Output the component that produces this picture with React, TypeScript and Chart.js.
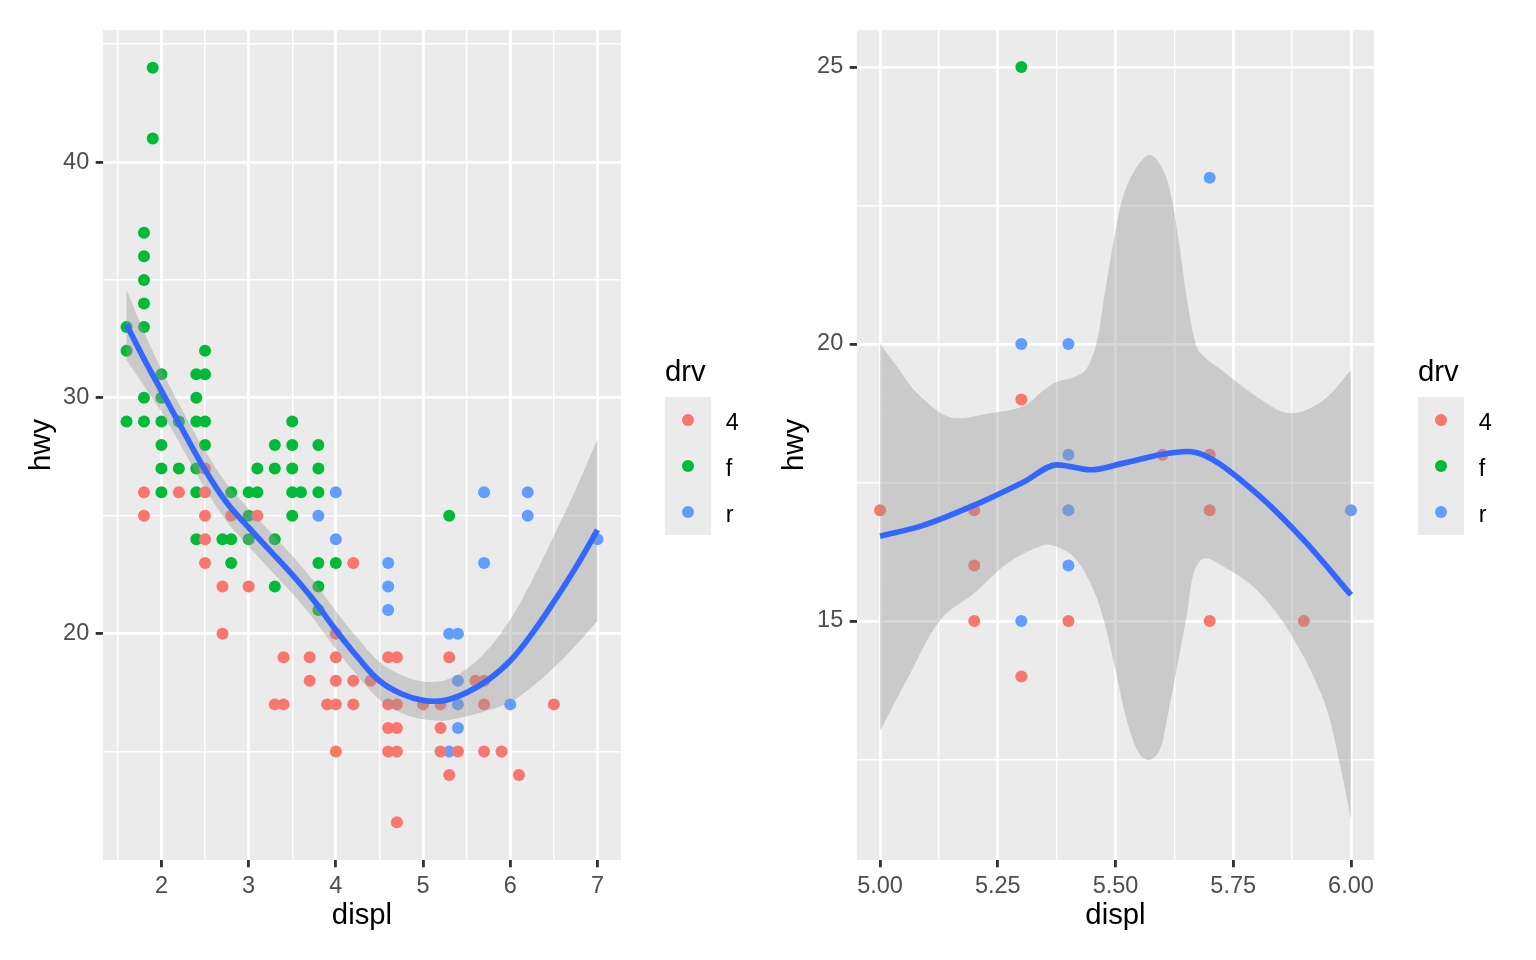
import React, { useEffect, useRef } from "react";
import { Chart, registerables } from "chart.js";

Chart.register(...registerables);

const FONT = '"Liberation Sans", Arial, Helvetica, sans-serif';

// ---------------- data (mpg: displ vs hwy, coloured by drv) ----------------
const drvLevels = ["4", "f", "r"];
const drvColors = ["#F8766D", "#00BA38", "#619CFF"];

const drv4Displ = [1.8, 1.8, 2.2, 2.5, 2.5, 2.5, 2.5, 2.5, 2.7, 2.7, 2.8, 3.0, 3.1, 3.3, 3.4, 3.4, 3.7, 3.7, 3.9, 4.0, 4.0, 4.0, 4.0, 4.0, 4.2, 4.2, 4.2, 4.4, 4.6, 4.6, 4.6, 4.6, 4.7, 4.7, 4.7, 4.7, 4.7, 5.0, 5.2, 5.2, 5.2, 5.3, 5.3, 5.4, 5.6, 5.7, 5.7, 5.7, 5.9, 6.1, 6.5];
const drv4Hwy = [26, 25, 26, 27, 26, 25, 24, 23, 22, 20, 25, 22, 25, 17, 19, 17, 19, 18, 17, 20, 19, 18, 17, 15, 23, 18, 17, 18, 19, 17, 16, 15, 19, 17, 16, 15, 12, 17, 17, 16, 15, 19, 14, 15, 18, 18, 17, 15, 15, 14, 17];

const drvFDispl = [1.6, 1.6, 1.6, 1.8, 1.8, 1.8, 1.8, 1.8, 1.8, 1.8, 1.9, 1.9, 2.0, 2.0, 2.0, 2.0, 2.0, 2.0, 2.2, 2.2, 2.4, 2.4, 2.4, 2.4, 2.4, 2.4, 2.5, 2.5, 2.5, 2.5, 2.7, 2.8, 2.8, 2.8, 3.0, 3.0, 3.0, 3.1, 3.1, 3.3, 3.3, 3.3, 3.3, 3.5, 3.5, 3.5, 3.5, 3.5, 3.6, 3.8, 3.8, 3.8, 3.8, 3.8, 3.8, 4.0, 5.3];
const drvFHwy = [33, 32, 29, 37, 36, 35, 34, 33, 30, 29, 44, 41, 31, 30, 29, 28, 27, 26, 29, 27, 31, 30, 29, 27, 26, 24, 32, 31, 29, 28, 24, 26, 24, 23, 26, 25, 24, 27, 26, 28, 27, 24, 22, 29, 28, 27, 26, 25, 26, 28, 27, 26, 23, 22, 21, 23, 25];

const drvRDispl = [3.8, 4.0, 4.0, 4.6, 4.6, 4.6, 5.3, 5.3, 5.4, 5.4, 5.4, 5.4, 5.7, 5.7, 6.0, 6.2, 6.2, 7.0];
const drvRHwy = [25, 26, 24, 23, 22, 21, 20, 15, 20, 18, 17, 16, 26, 23, 17, 26, 25, 24];

// left panel loess fit and confidence band
const leftSmoothX = [1.6, 1.8, 2.0, 2.25, 2.5, 2.75, 3.0, 3.25, 3.5, 3.75, 4.0, 4.25, 4.5, 4.75, 5.0, 5.25, 5.5, 5.75, 6.0, 6.25, 6.5, 6.75, 7.0];
const leftSmoothY = [33.1, 31.65, 30.3, 28.6, 26.95, 25.55, 24.5, 23.5, 22.5, 21.4, 20.15, 19.0, 18.0, 17.45, 17.17, 17.17, 17.5, 18.05, 18.85, 20.0, 21.35, 22.8, 24.4];
const leftUpperY = [34.6, 32.8, 31.2, 29.4, 27.75, 26.35, 25.3, 24.3, 23.3, 22.2, 20.95, 19.8, 18.8, 18.25, 17.97, 18.02, 18.5, 19.35, 20.6, 22.25, 24.15, 26.1, 28.25];
const leftLowerY = [31.6, 30.5, 29.4, 27.8, 26.15, 24.75, 23.7, 22.7, 21.7, 20.6, 19.35, 18.2, 17.2, 16.65, 16.37, 16.32, 16.5, 16.75, 17.1, 17.75, 18.55, 19.5, 20.55];

// right panel (5 <= displ <= 6, 10 <= hwy <= 25) loess fit and band
const rightSmoothX = [5.0, 5.093, 5.2, 5.305, 5.376, 5.447, 5.517, 5.6, 5.652, 5.694, 5.8, 5.9, 6.0];
const rightSmoothY = [16.53, 16.73, 17.09, 17.51, 17.82, 17.73, 17.85, 18.01, 18.06, 17.97, 17.3, 16.46, 15.47];
const rightUpperX = [5.0, 5.036, 5.079, 5.149, 5.234, 5.305, 5.348, 5.376, 5.411, 5.439, 5.461, 5.475, 5.493, 5.514, 5.541, 5.573, 5.601, 5.62, 5.637, 5.652, 5.67, 5.684, 5.73, 5.8, 5.871, 5.942, 6.0];
const rightUpperY = [20.0, 19.59, 19.11, 18.68, 18.75, 18.88, 19.17, 19.32, 19.4, 19.56, 20.07, 20.79, 21.7, 22.6, 23.14, 23.41, 23.14, 22.6, 21.7, 20.79, 20.01, 19.8, 19.5, 19.05, 18.75, 18.99, 19.53];
const rightLowerX = [5.0, 5.057, 5.128, 5.2, 5.27, 5.348, 5.376, 5.411, 5.447, 5.475, 5.503, 5.524, 5.552, 5.573, 5.594, 5.609, 5.631, 5.652, 5.666, 5.687, 5.73, 5.8, 5.871, 5.942, 5.977, 6.0];
const rightLowerY = [13.02, 13.94, 15.02, 15.5, 16.04, 16.37, 16.34, 16.16, 15.68, 15.02, 13.99, 13.21, 12.58, 12.49, 12.67, 13.21, 14.18, 15.14, 15.86, 16.13, 15.98, 15.56, 14.78, 13.57, 12.4, 11.41];

// axes
const leftXTicks = [1.5, 2, 2.5, 3, 3.5, 4, 4.5, 5, 5.5, 6, 6.5, 7];
const leftXMajors = [2, 3, 4, 5, 6, 7];
const leftXLabels = ["2", "3", "4", "5", "6", "7"];
const leftYTicks = [15, 20, 25, 30, 35, 40, 45];
const leftYMajors = [20, 30, 40];
const leftYLabels = ["20", "30", "40"];

const rightXTicks = [5, 5.125, 5.25, 5.375, 5.5, 5.625, 5.75, 5.875, 6];
const rightXMajors = [5, 5.25, 5.5, 5.75, 6];
const rightXLabels = ["5.00", "5.25", "5.50", "5.75", "6.00"];
const rightYTicks = [12.5, 15, 17.5, 20, 22.5, 25];
const rightYMajors = [15, 20, 25];
const rightYLabels = ["15", "20", "25"];

// ---------------- helpers ----------------
type Pt = { x: number; y: number };

function zip(xs: number[], ys: number[]): Pt[] {
  return xs.map((x, i) => ({ x, y: ys[i] }));
}

function ribbonPolygon(ux: number[], uy: number[], lx: number[], ly: number[]): Pt[] {
  const pts: Pt[] = [];
  pts.push({ x: ux[0], y: uy[0] });
  for (let i = 0; i < ux.length; i++) pts.push({ x: ux[i], y: uy[i] });
  pts.push({ x: ux[ux.length - 1], y: uy[uy.length - 1] });
  pts.push({ x: lx[lx.length - 1], y: ly[ly.length - 1] });
  for (let i = lx.length - 1; i >= 0; i--) pts.push({ x: lx[i], y: ly[i] });
  pts.push({ x: lx[0], y: ly[0] });
  return pts;
}

function findMajor(v: number, majors: number[]) {
  return majors.findIndex((m) => Math.abs(m - v) < 1e-9);
}

type Panel = {
  xMin: number; xMax: number; yMin: number; yMax: number;
  xTicks: number[]; xMajors: number[]; xLabels: string[];
  yTicks: number[]; yMajors: number[]; yLabels: string[];
  points: Pt[][];
  smooth: Pt[];
  monotone: boolean;
  ribbon: Pt[];
  yAxisWidth: number;
  yTitlePad: number;
  rightPad: number;
};

function axisOpts(ticks: number[], majors: number[], labels: string[], min: number, max: number, horizontal: boolean, title: string, titlePad: number, size: number) {
  return {
    type: "linear",
    min,
    max,
    bounds: "data",
    afterBuildTicks: (s: any) => {
      s.ticks = ticks.map((v) => ({ value: v }));
    },
    afterFit: (s: any) => {
      if (horizontal) s.height = size;
      else s.width = size;
    },
    border: { display: false },
    grid: {
      color: "#FFFFFF",
      lineWidth: (c: any) => (c.tick && findMajor(c.tick.value, majors) >= 0 ? 2.84 : 1.42),
      drawTicks: true,
      tickLength: 7.3,
      tickWidth: 2.84,
      tickColor: (c: any) => (c.tick && findMajor(c.tick.value, majors) >= 0 ? "#333333" : "rgba(0,0,0,0)"),
    },
    ticks: {
      autoSkip: false,
      maxRotation: 0,
      minRotation: 0,
      padding: horizontal ? 5.3 : 6.5,
      color: "#4D4D4D",
      font: { family: FONT, size: 23.5 },
      callback: (v: any) => {
        const k = findMajor(Number(v), majors);
        return k >= 0 ? labels[k] : "";
      },
    },
    title: {
      display: true,
      text: title,
      color: "#000000",
      font: { family: FONT, size: 29.3 },
      padding: horizontal ? { top: 0, bottom: 26.5 } : { top: titlePad, bottom: 0 },
    },
  };
}

const panelBg = {
  id: "panelBg",
  beforeDraw(chart: any) {
    const { ctx, chartArea } = chart;
    ctx.save();
    ctx.fillStyle = "#EBEBEB";
    ctx.fillRect(chartArea.left, chartArea.top, chartArea.right - chartArea.left, chartArea.bottom - chartArea.top);
    ctx.restore();
  },
};

const ggLegend = {
  id: "ggLegend",
  afterDraw(chart: any) {
    const { ctx, chartArea } = chart;
    const x0 = chartArea.right + 44;
    const keyTop = 397;
    const key = 46;
    ctx.save();
    ctx.textAlign = "left";
    ctx.textBaseline = "alphabetic";
    ctx.fillStyle = "#000000";
    ctx.font = `29.3px ${FONT}`;
    ctx.fillText("drv", x0, 381);
    ctx.fillStyle = "#EBEBEB";
    ctx.fillRect(x0, keyTop, key, key * drvLevels.length);
    ctx.font = `23.5px ${FONT}`;
    drvLevels.forEach((lvl, i) => {
      const cy = keyTop + key / 2 + i * key;
      ctx.beginPath();
      ctx.fillStyle = drvColors[i];
      ctx.arc(x0 + key / 2, cy, 6, 0, Math.PI * 2);
      ctx.fill();
      ctx.fillStyle = "#000000";
      ctx.fillText(lvl, x0 + key + 14.7, cy + 10);
    });
    ctx.restore();
  },
};

function buildConfig(p: Panel): any {
  const pointSets = p.points.map((pts, i) => ({
    type: "line",
    label: drvLevels[i],
    data: pts,
    showLine: false,
    pointRadius: 6,
    pointBorderWidth: 0,
    pointBackgroundColor: drvColors[i],
    pointBorderColor: drvColors[i],
    pointHoverRadius: 6,
    order: 3,
  }));
  const fitLine: any = {
    type: "line",
    label: "fit",
    data: p.smooth,
    fill: false,
    borderColor: "#3366FF",
    borderWidth: 5.7,
    pointRadius: 0,
    order: 1,
  };
  if (p.monotone) fitLine.cubicInterpolationMode = "monotone";
  else fitLine.tension = 0.4;
  return {
    type: "line",
    data: {
      datasets: [
        ...pointSets,
        {
          type: "line",
          label: "band",
          data: p.ribbon,
          fill: "shape",
          backgroundColor: "rgba(153,153,153,0.4)",
          borderColor: "rgba(0,0,0,0)",
          borderWidth: 0,
          pointRadius: 0,
          tension: 0.35,
          order: 2,
        },
        fitLine,
      ],
    },
    options: {
      responsive: false,
      animation: false,
      events: [],
      parsing: false,
      normalized: true,
      layout: { padding: { left: 0, top: 30, right: p.rightPad, bottom: 0 } },
      plugins: {
        legend: { display: false },
        tooltip: { enabled: false },
      },
      scales: {
        x: axisOpts(p.xTicks, p.xMajors, p.xLabels, p.xMin, p.xMax, true, "displ", 0, 100),
        y: axisOpts(p.yTicks, p.yMajors, p.yLabels, p.yMin, p.yMax, false, "hwy", p.yTitlePad, p.yAxisWidth),
      },
    },
    plugins: [panelBg, ggLegend],
  };
}

const allDispl = [drv4Displ, drvFDispl, drvRDispl];
const allHwy = [drv4Hwy, drvFHwy, drvRHwy];

const leftPanel: Panel = {
  xMin: 1.33, xMax: 7.27, yMin: 10.4, yMax: 45.6,
  xTicks: leftXTicks, xMajors: leftXMajors, xLabels: leftXLabels,
  yTicks: leftYTicks, yMajors: leftYMajors, yLabels: leftYLabels,
  points: allDispl.map((d, i) => zip(d, allHwy[i])),
  smooth: zip(leftSmoothX, leftSmoothY),
  monotone: false,
  ribbon: ribbonPolygon(leftSmoothX, leftUpperY, leftSmoothX, leftLowerY),
  yAxisWidth: 103,
  yTitlePad: 24,
  rightPad: 147,
};

const rightPanel: Panel = {
  xMin: 4.951, xMax: 6.049, yMin: 10.686, yMax: 25.668,
  xTicks: rightXTicks, xMajors: rightXMajors, xLabels: rightXLabels,
  yTicks: rightYTicks, yMajors: rightYMajors, yLabels: rightYLabels,
  points: allDispl.map((d, i) =>
    zip(d, allHwy[i]).filter((pt) => pt.x >= 5 && pt.x <= 6 && pt.y >= 10 && pt.y <= 25)
  ),
  smooth: zip(rightSmoothX, rightSmoothY),
  monotone: true,
  ribbon: ribbonPolygon(rightUpperX, rightUpperY, rightLowerX, rightLowerY),
  yAxisWidth: 89,
  yTitlePad: 8.9,
  rightPad: 162,
};

function PanelChart({ panel, left }: { panel: Panel; left: number }) {
  const ref = useRef<HTMLCanvasElement | null>(null);
  useEffect(() => {
    if (!ref.current) return;
    const chart = new Chart(ref.current, buildConfig(panel));
    return () => chart.destroy();
  }, [panel]);
  return (
    <canvas
      ref={ref}
      width={768}
      height={960}
      style={{ position: "absolute", left, top: 0, width: 768, height: 960 }}
    />
  );
}

export default function App() {
  return (
    <div style={{ position: "absolute", left: 0, top: 0, width: 1536, height: 960, background: "#FFFFFF" }}>
      <PanelChart panel={leftPanel} left={0} />
      <PanelChart panel={rightPanel} left={768} />
    </div>
  );
}
